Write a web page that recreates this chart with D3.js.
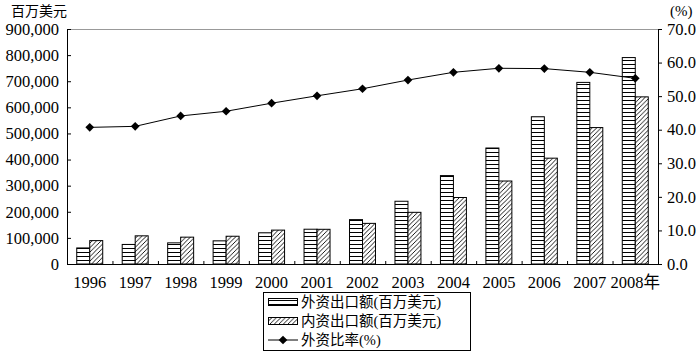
<!DOCTYPE html>
<html><head><meta charset="utf-8">
<script src="https://cdn.jsdelivr.net/npm/d3@7"></script>
<style>
html,body{margin:0;padding:0;background:#fff;}
svg{display:block;}
</style></head>
<body>
<svg id="chart" width="700" height="356" style="font-family:'Liberation Serif','DejaVu Serif','Noto Sans CJK SC',serif"></svg>
<script>
const years = ["1996","1997","1998","1999","2000","2001","2002","2003","2004","2005","2006","2007","2008"];
const yearLabels = ["1996","1997","1998","1999","2000","2001","2002","2003","2004","2005","2006","2007","2008年"];
const foreignExports = [61500, 74900, 81000, 88600, 119400, 133200, 170000, 240300, 338600, 444200, 563800, 695500, 790600];
const domesticExports = [89600, 107900, 102800, 106300, 129800, 132900, 155600, 197900, 254700, 317800, 405300, 522500, 640100];
const foreignShare = [40.7, 41.0, 44.1, 45.5, 47.9, 50.1, 52.2, 54.8, 57.1, 58.3, 58.2, 57.1, 55.3];
const leftTicks = [0,100000,200000,300000,400000,500000,600000,700000,800000,900000];
const rightTicks = [0,10,20,30,40,50,60,70];
const seriesNames = ["外资出口额(百万美元)","内资出口额(百万美元)","外资比率(%)"];
const leftTitle = "百万美元";
const rightTitle = "(%)";

const FONT = "'Liberation Serif','DejaVu Serif','Noto Sans CJK SC',serif";
const svg = d3.select("#chart");
const L = 67, R = 658, T = 29, B = 264;

const defs = svg.append("defs");
const ph = defs.append("pattern").attr("id","hstripe").attr("patternUnits","userSpaceOnUse")
  .attr("width",6).attr("height",4);
ph.append("rect").attr("width",6).attr("height",4).attr("fill","#fff");
ph.append("line").attr("x1",0).attr("x2",6).attr("y1",0.5).attr("y2",0.5).attr("stroke","#000").attr("stroke-width",1);
const pd = defs.append("pattern").attr("id","hatch").attr("patternUnits","userSpaceOnUse")
  .attr("width",4.5).attr("height",4.5);
pd.append("rect").attr("width",4.5).attr("height",4.5).attr("fill","#fff");
pd.append("path").attr("d","M0,4.5 L4.5,0 M-1,1 L1,-1 M3.5,5.5 L5.5,3.5").attr("stroke","#000").attr("stroke-width",0.9);

const x = d3.scaleBand().domain(years).range([L,R]).paddingInner(0).paddingOuter(0);
const xi = d3.scaleBand().domain(["f","d"]).range([0,x.bandwidth()]).paddingInner(0).paddingOuter(0.75);
const y = d3.scaleLinear().domain([0,900000]).range([B,T]);
const y2 = d3.scaleLinear().domain([0,70]).range([B,T]);

svg.append("line").attr("x1",L).attr("x2",R).attr("y1",T+0.5).attr("y2",T+0.5).attr("stroke","#999").attr("stroke-width",1);

const g = svg.append("g");
g.selectAll("rect.f").data(years).join("rect").attr("class","f")
  .attr("x",d=>x(d)+xi("f")).attr("width",xi.bandwidth())
  .attr("y",(d,i)=>y(foreignExports[i])).attr("height",(d,i)=>B-y(foreignExports[i]))
  .attr("fill","url(#hstripe)").attr("stroke","#000").attr("stroke-width",1);
g.selectAll("rect.d").data(years).join("rect").attr("class","d")
  .attr("x",d=>x(d)+xi("d")).attr("width",xi.bandwidth())
  .attr("y",(d,i)=>y(domesticExports[i])).attr("height",(d,i)=>B-y(domesticExports[i]))
  .attr("fill","url(#hatch)").attr("stroke","#000").attr("stroke-width",1);

const la = svg.append("g").attr("transform",`translate(${L},0)`)
  .call(d3.axisLeft(y).tickValues(leftTicks).tickSize(-4).tickPadding(8).tickFormat(d3.format(",")));
la.attr("font-family",FONT).attr("font-size",null);
la.selectAll("path").attr("stroke","#000").attr("d",`M0.5,${B}V${T}`);
la.selectAll("line").attr("stroke","#000");
la.selectAll("text").attr("font-family",FONT).style("font-family",FONT).style("font-size","16.5px").attr("fill","#000");

const ra = svg.append("g").attr("transform",`translate(${R},0)`)
  .call(d3.axisRight(y2).tickValues(rightTicks).tickSize(4).tickPadding(5).tickFormat(d3.format(".1f")));
ra.attr("font-family",FONT).attr("font-size",null);
ra.selectAll("path").attr("stroke","#000").attr("d",`M0.5,${B}V${T}`);
ra.selectAll("line").attr("stroke","#000");
ra.selectAll("text").attr("font-family",FONT).style("font-family",FONT).style("font-size","16.5px").attr("fill","#000");

const ba = svg.append("g").attr("transform",`translate(0,${B})`);
ba.append("line").attr("x1",L).attr("x2",R).attr("y1",0.5).attr("y2",0.5).attr("stroke","#000");
ba.selectAll("line.tk").data(years.slice(1)).join("line").attr("class","tk")
  .attr("x1",d=>x(d)+0.5).attr("x2",d=>x(d)+0.5).attr("y1",0).attr("y2",-3).attr("stroke","#000");
ba.selectAll("text").data(years).join("text")
  .attr("x",d=>x(d)+x.bandwidth()/2).attr("y",24)
  .attr("text-anchor","middle").style("font-family",FONT).style("font-size","16.5px")
  .text((d,i)=>yearLabels[i]);

const line = d3.line().x((d,i)=>x(years[i])+x.bandwidth()/2).y(d=>y2(d));
svg.append("path").datum(foreignShare).attr("d",line).attr("fill","none").attr("stroke","#000").attr("stroke-width",1);
const diamond = d3.symbol().type(d3.symbolSquare).size(38);
svg.selectAll("path.mk").data(foreignShare).join("path").attr("class","mk")
  .attr("transform",(d,i)=>`translate(${x(years[i])+x.bandwidth()/2},${y2(d)}) rotate(45)`)
  .attr("d",diamond).attr("fill","#000");

svg.append("text").attr("x",11).attr("y",16).style("font-family",FONT).style("font-size","14px").text(leftTitle);
svg.append("text").attr("x",670).attr("y",16).style("font-family",FONT).style("font-size","15px").text(rightTitle);

const lg = svg.append("g");
lg.append("rect").attr("x",263.5).attr("y",292.5).attr("width",207).attr("height",58).attr("fill","#fff").attr("stroke","#000");
const rows = [302, 321, 340];
lg.append("rect").attr("x",268.5).attr("y",rows[0]-3.5).attr("width",29).attr("height",7).attr("fill","url(#hstripe)").attr("stroke","#000");
lg.append("rect").attr("x",268.5).attr("y",rows[1]-3.5).attr("width",29).attr("height",7).attr("fill","url(#hatch)").attr("stroke","#000");
lg.append("line").attr("x1",268).attr("x2",298).attr("y1",rows[2]).attr("y2",rows[2]).attr("stroke","#000");
lg.append("path").attr("transform",`translate(283,${rows[2]}) rotate(45)`).attr("d",diamond).attr("fill","#000");
lg.selectAll("text.lt").data(seriesNames).join("text").attr("class","lt")
  .attr("x",301).attr("y",(d,i)=>rows[i]+5).style("font-family",FONT).style("font-size","14.5px").text(d=>d);
</script>
</body></html>
